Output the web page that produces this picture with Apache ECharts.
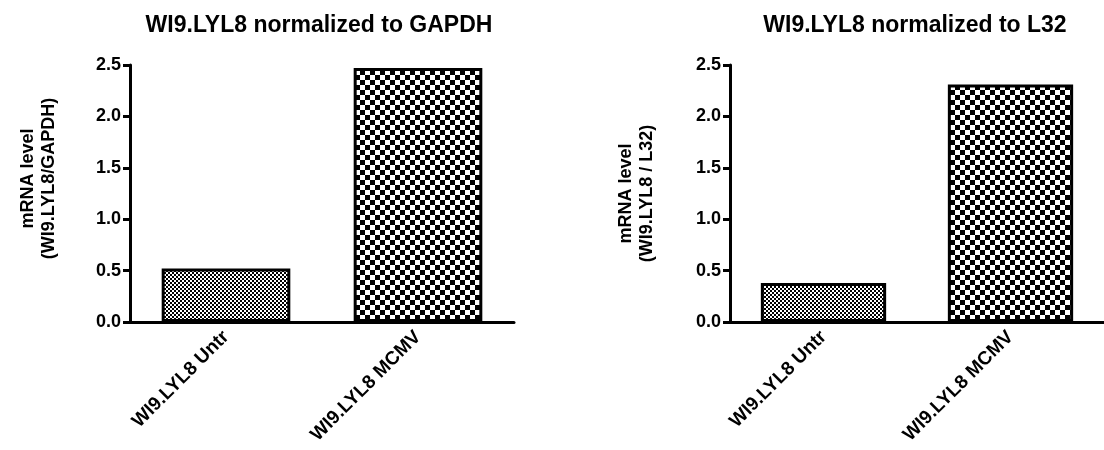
<!DOCTYPE html>
<html>
<head>
<meta charset="utf-8">
<script src="https://cdn.jsdelivr.net/npm/echarts@6/dist/echarts.min.js"></script>
<style>
  html, body { margin: 0; padding: 0; background: #fff; }
  #chart { width: 1104px; height: 450px; }
</style>
</head>
<body>
<div id="chart"></div>
<script>
var categories = ["WI9.LYL8 Untr", "WI9.LYL8 MCMV"];
var gapdhValues = [0.52, 2.47];
var l32Values = [0.38, 2.31];
var titles = ["WI9.LYL8 normalized to GAPDH", "WI9.LYL8 normalized to L32"];
var yNames = ["mRNA level\n(WI9.LYL8/GAPDH)", "mRNA level\n(WI9.LYL8 / L32)"];

var FONT = "'Liberation Sans', Arial, sans-serif";

// checkerboard fill, cell = size of one square in px
function checker(cell) {
    var c = document.createElement("canvas");
    c.width = cell * 2;
    c.height = cell * 2;
    var ctx = c.getContext("2d");
    ctx.fillStyle = "#fff";
    ctx.fillRect(0, 0, c.width, c.height);
    ctx.fillStyle = "#000";
    ctx.fillRect(0, 0, cell, cell);
    ctx.fillRect(cell, cell, cell, cell);
    return c;
}
var fine = checker(2);
var coarse = checker(5);

function barData(values) {
    var fills = [fine, coarse];
    return values.map(function (v, i) {
        return {
            value: v,
            itemStyle: { color: { image: fills[i], repeat: "repeat" } }
        };
    });
}

function xAxisFor(idx) {
    return {
        type: "category",
        gridIndex: idx,
        data: categories,
        axisLine: { lineStyle: { color: "#000", width: 3 } },
        axisTick: { alignWithLabel: true, length: 8, lineStyle: { color: "#000", width: 3 } },
        axisLabel: { rotate: 45, color: "#000", fontFamily: FONT, fontWeight: "bold", fontSize: 19, margin: 12 }
    };
}

function yAxisFor(idx, gap, pad) {
    return {
        type: "value",
        gridIndex: idx,
        min: 0,
        max: 2.5,
        interval: 0.5,
        name: yNames[idx],
        nameLocation: "middle",
        nameGap: gap,
        nameTextStyle: { color: "#000", fontFamily: FONT, fontWeight: "bold", fontSize: 18, lineHeight: 21, padding: pad },
        axisLine: { show: true, lineStyle: { color: "#000", width: 3 } },
        axisTick: { show: true, length: 7, lineStyle: { color: "#000", width: 3 } },
        splitLine: { show: false },
        axisLabel: {
            color: "#000", fontFamily: FONT, fontWeight: "bold", fontSize: 18, margin: 9,
            formatter: function (v) { return v.toFixed(1); }
        }
    };
}

var chart = echarts.init(document.getElementById("chart"));
var option = {
    animation: false,
    backgroundColor: "#fff",
    title: [
        { text: titles[0], left: 314, top: 9, textAlign: "center",
          textStyle: { color: "#000", fontFamily: FONT, fontWeight: "bold", fontSize: 23 } },
        { text: titles[1], left: 910, top: 9, textAlign: "center",
          textStyle: { color: "#000", fontFamily: FONT, fontWeight: "bold", fontSize: 23 } }
    ],
    grid: [
        { left: 130, top: 65, width: 384, height: 257 },
        { left: 730, top: 65, width: 384, height: 257 }
    ],
    xAxis: [xAxisFor(0), xAxisFor(1)],
    yAxis: [yAxisFor(0, 70, [0, 0, 0, 30]), yAxisFor(1, 72, 0)],
    series: [
        {
            type: "bar", xAxisIndex: 0, yAxisIndex: 0,
            barWidth: "67%",
            data: barData(gapdhValues),
            itemStyle: { borderColor: "#000", borderWidth: 3 }
        },
        {
            type: "bar", xAxisIndex: 1, yAxisIndex: 1,
            barWidth: "67%",
            data: barData(l32Values),
            itemStyle: { borderColor: "#000", borderWidth: 3 }
        }
    ]
};
chart.setOption(option);
</script>
</body>
</html>
